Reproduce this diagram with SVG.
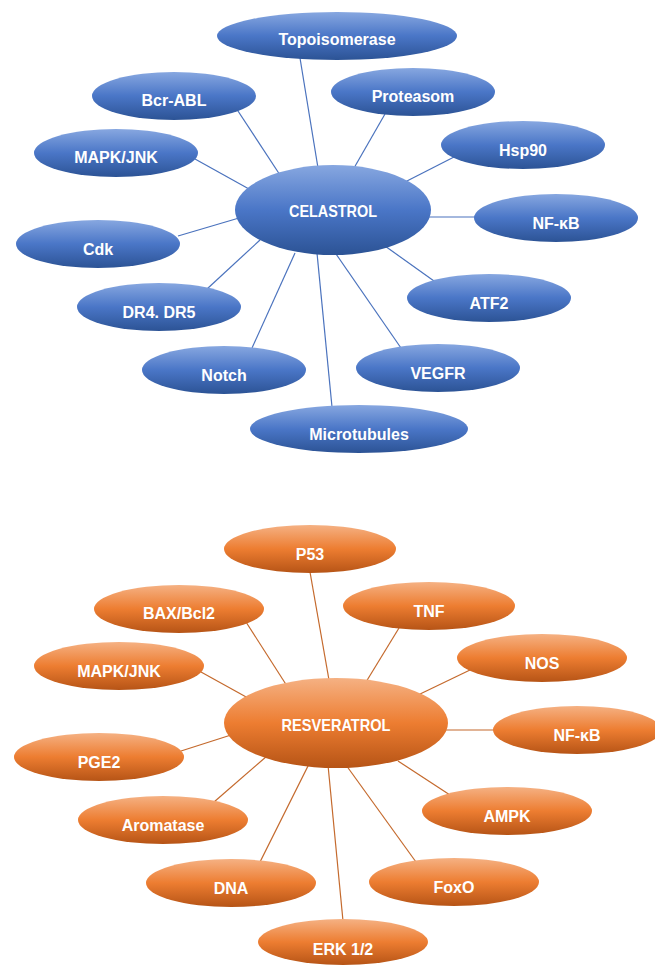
<svg xmlns="http://www.w3.org/2000/svg" width="655" height="965" viewBox="0 0 655 965">
<defs>
<linearGradient id="gb" x1="0" y1="0" x2="0" y2="1">
<stop offset="0" stop-color="#87a7e0"/>
<stop offset="0.5" stop-color="#4a76c7"/>
<stop offset="1" stop-color="#2c5395"/>
</linearGradient>
<linearGradient id="go" x1="0" y1="0" x2="0" y2="1">
<stop offset="0" stop-color="#f5b183"/>
<stop offset="0.5" stop-color="#ed7d31"/>
<stop offset="1" stop-color="#b65416"/>
</linearGradient>
<style>
.b ellipse{fill:url(#gb);}
.o ellipse{fill:url(#go);}
text{font-family:"Liberation Sans",Arial,sans-serif;font-weight:bold;fill:#ffffff;text-anchor:middle;font-size:16px;}
text.c{font-size:16.5px;}
#lb line{stroke:#4a72bd;stroke-width:1.2;}
#lo line{stroke:#c4692c;stroke-width:1.2;}
</style>
</defs>
<rect width="655" height="965" fill="#ffffff"/>
<g id="lb">
<line x1="300" y1="58" x2="318" y2="168"/>
<line x1="236" y1="108" x2="280" y2="175"/>
<line x1="385" y1="114" x2="354" y2="168"/>
<line x1="195" y1="159" x2="249" y2="189"/>
<line x1="454" y1="157" x2="405" y2="182"/>
<line x1="428" y1="217" x2="478" y2="217"/>
<line x1="178" y1="236" x2="239" y2="218"/>
<line x1="207" y1="289" x2="260" y2="240"/>
<line x1="385" y1="246" x2="434" y2="281"/>
<line x1="336" y1="254" x2="401" y2="348"/>
<line x1="317" y1="253" x2="332" y2="407"/>
<line x1="295" y1="253" x2="252" y2="348"/>
</g>
<g id="lo">
<line x1="310" y1="572" x2="329" y2="680"/>
<line x1="246" y1="622" x2="287" y2="686"/>
<line x1="399" y1="628" x2="366" y2="682"/>
<line x1="201" y1="672" x2="248" y2="698"/>
<line x1="470" y1="670" x2="418" y2="695"/>
<line x1="445" y1="730" x2="496" y2="730"/>
<line x1="181" y1="751" x2="231" y2="735"/>
<line x1="214" y1="802" x2="267" y2="756"/>
<line x1="398" y1="761" x2="450" y2="795"/>
<line x1="309" y1="764" x2="260" y2="862"/>
<line x1="328" y1="765" x2="343" y2="921"/>
<line x1="346" y1="765" x2="416" y2="862"/>
</g>
<g id="celastrol" class="b"><ellipse cx="333" cy="210" rx="98" ry="45"/><text class="c" x="333" y="217" textLength="88" lengthAdjust="spacingAndGlyphs">CELASTROL</text></g>
<g id="topoisomerase" class="b"><ellipse cx="337" cy="36" rx="120" ry="24"/><text x="337" y="45">Topoisomerase</text></g>
<g id="bcr-abl" class="b"><ellipse cx="174" cy="96" rx="82" ry="24"/><text x="174" y="106">Bcr-ABL</text></g>
<g id="proteasom" class="b"><ellipse cx="413" cy="92" rx="82" ry="24"/><text x="413" y="102">Proteasom</text></g>
<g id="mapk-jnk-b" class="b"><ellipse cx="116" cy="153" rx="82" ry="24"/><text x="116" y="163">MAPK/JNK</text></g>
<g id="hsp90" class="b"><ellipse cx="523" cy="145" rx="82" ry="24"/><text x="523" y="156">Hsp90</text></g>
<g id="nfkb-b" class="b"><ellipse cx="556" cy="218" rx="82" ry="24"/><text x="556" y="229">NF-κB</text></g>
<g id="cdk" class="b"><ellipse cx="98" cy="244" rx="82" ry="24"/><text x="98" y="255">Cdk</text></g>
<g id="dr4-dr5" class="b"><ellipse cx="159" cy="307" rx="82" ry="24"/><text x="159" y="318">DR4. DR5</text></g>
<g id="atf2" class="b"><ellipse cx="489" cy="298" rx="82" ry="24"/><text x="489" y="309">ATF2</text></g>
<g id="notch" class="b"><ellipse cx="224" cy="370" rx="82" ry="24"/><text x="224" y="381">Notch</text></g>
<g id="vegfr" class="b"><ellipse cx="438" cy="368" rx="82" ry="24"/><text x="438" y="379">VEGFR</text></g>
<g id="microtubules" class="b"><ellipse cx="359" cy="429" rx="109" ry="24"/><text x="359" y="440">Microtubules</text></g>
<g id="resveratrol" class="o"><ellipse cx="336" cy="723" rx="112" ry="45"/><text class="c" x="336" y="731" textLength="109" lengthAdjust="spacingAndGlyphs">RESVERATROL</text></g>
<g id="p53" class="o"><ellipse cx="310" cy="549" rx="86" ry="24"/><text x="310" y="560">P53</text></g>
<g id="tnf" class="o"><ellipse cx="429" cy="606" rx="86" ry="24"/><text x="429" y="617">TNF</text></g>
<g id="bax-bcl2" class="o"><ellipse cx="179" cy="609" rx="85" ry="24"/><text x="179" y="619">BAX/Bcl2</text></g>
<g id="mapk-jnk-o" class="o"><ellipse cx="119" cy="666" rx="85" ry="24"/><text x="119" y="677">MAPK/JNK</text></g>
<g id="nos" class="o"><ellipse cx="542" cy="658" rx="85" ry="24"/><text x="542" y="669">NOS</text></g>
<g id="nfkb-o" class="o"><ellipse cx="577" cy="730" rx="84" ry="24"/><text x="577" y="741">NF-κB</text></g>
<g id="pge2" class="o"><ellipse cx="99" cy="757" rx="85" ry="24"/><text x="99" y="768">PGE2</text></g>
<g id="ampk" class="o"><ellipse cx="507" cy="811" rx="85" ry="24"/><text x="507" y="822">AMPK</text></g>
<g id="aromatase" class="o"><ellipse cx="163" cy="820" rx="85" ry="24"/><text x="163" y="831">Aromatase</text></g>
<g id="dna" class="o"><ellipse cx="231" cy="883" rx="85" ry="24"/><text x="231" y="894">DNA</text></g>
<g id="foxo" class="o"><ellipse cx="454" cy="882" rx="85" ry="24"/><text x="454" y="893">FoxO</text></g>
<g id="erk" class="o"><ellipse cx="343" cy="942" rx="85" ry="23"/><text x="343" y="955">ERK 1/2</text></g>
</svg>
